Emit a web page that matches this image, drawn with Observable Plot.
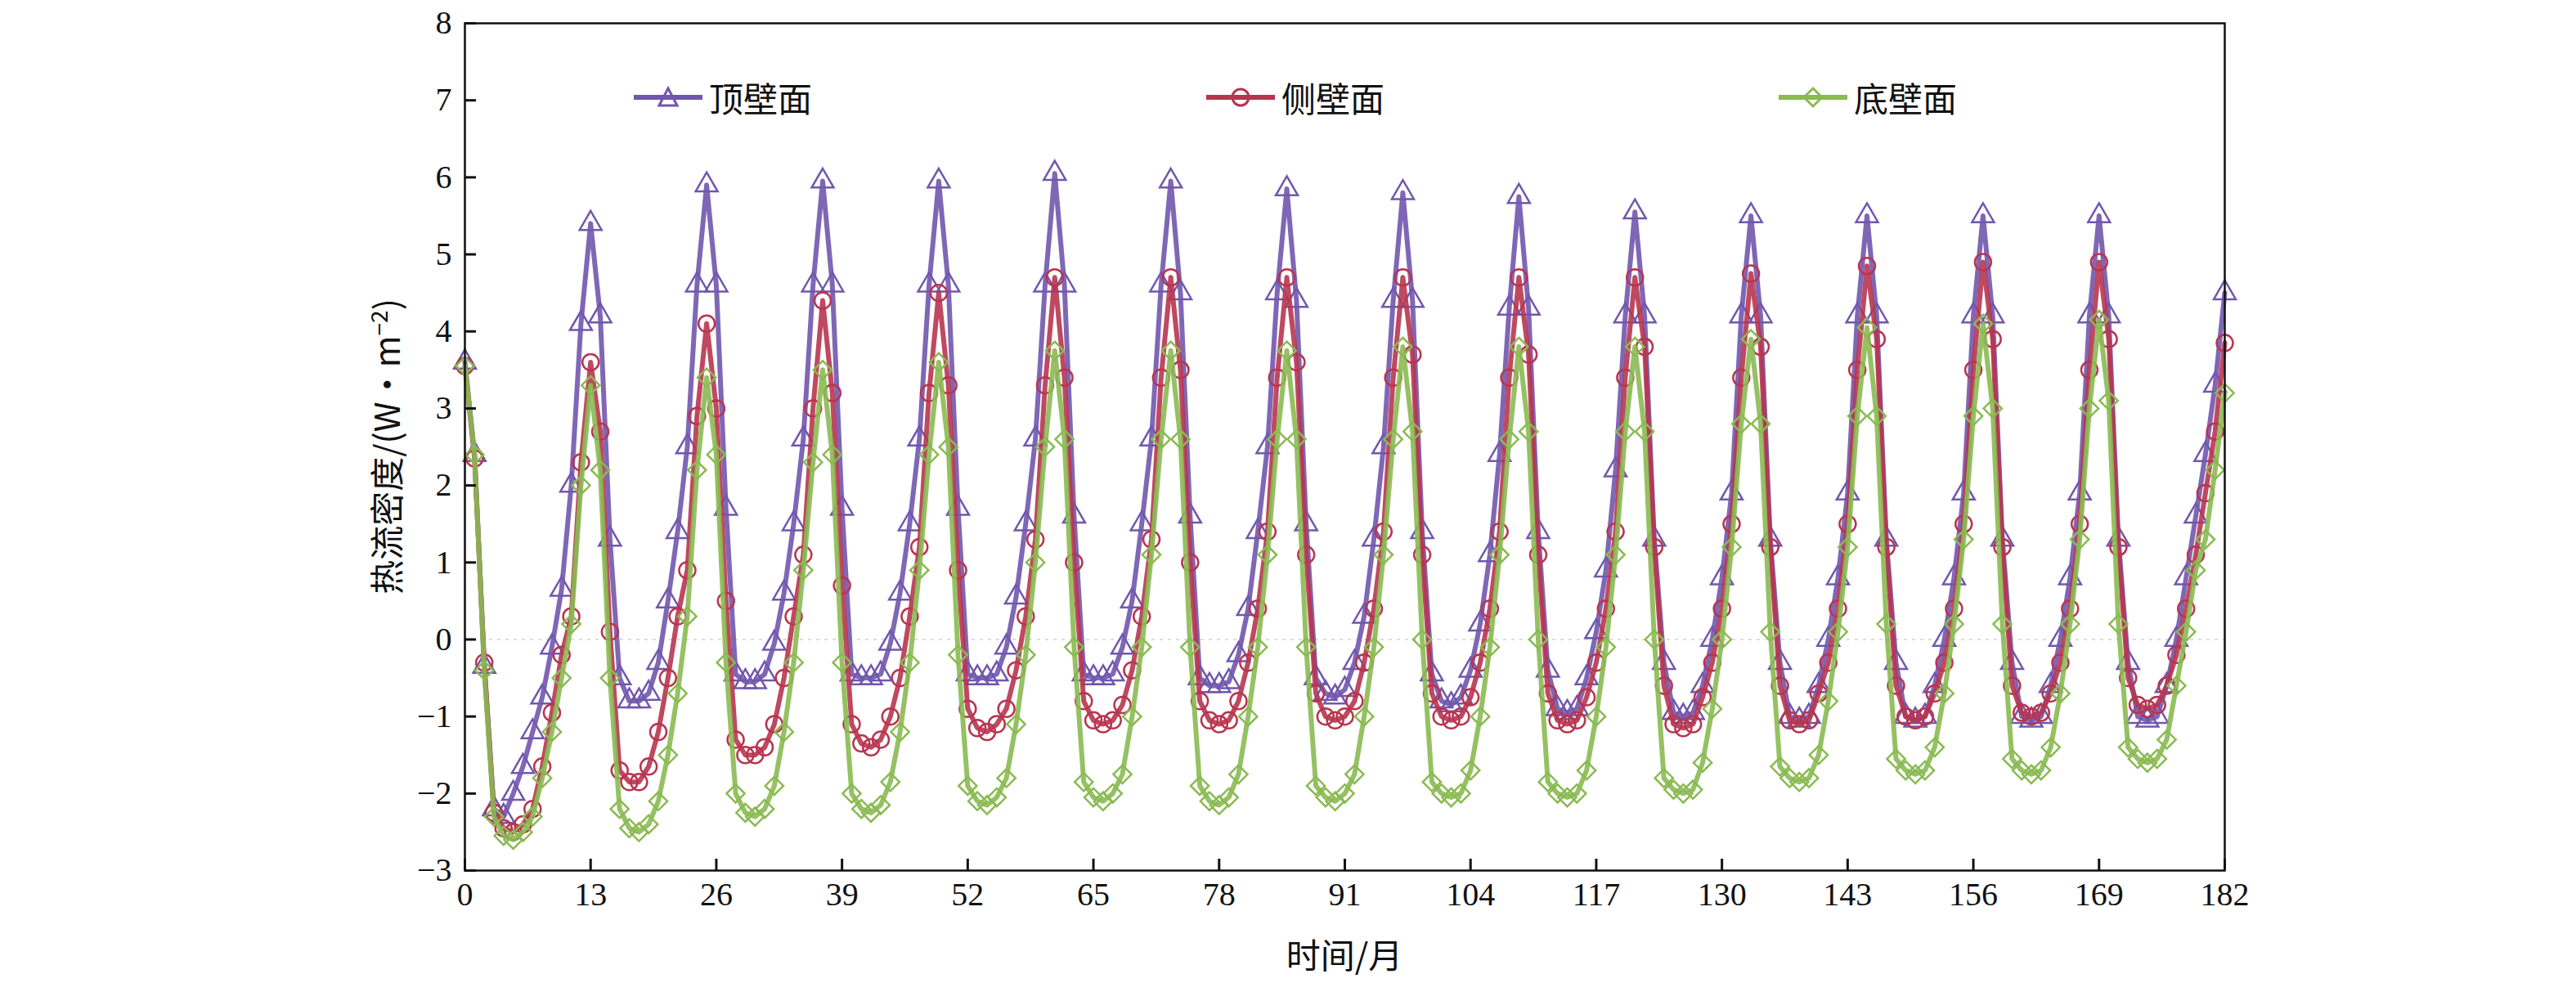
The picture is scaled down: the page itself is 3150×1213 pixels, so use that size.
<!DOCTYPE html>
<html><head><meta charset="utf-8">
<script src="https://cdn.jsdelivr.net/npm/d3@7"></script>
<script src="https://cdn.jsdelivr.net/npm/@observablehq/plot@0.6"></script>
<style>
body{margin:0;background:#fff;}
#wrap{position:relative;width:3150px;height:1213px;}
.leg{position:absolute;top:88px;display:flex;align-items:center;font-family:"Noto Sans CJK SC";font-size:42px;color:#111;}
</style></head><body>
<div id="wrap"></div>
<script>
const seriesNames = ["顶壁面","侧壁面","底壁面"];
const colors = ["#7157ae","#b8354f","#8aba52"];
const symbols = ["triangle","circle","diamond2"];
const xTicks = [0,13,26,39,52,65,78,91,104,117,130,143,156,169,182];
const yTicks = [-3,-2,-1,0,1,2,3,4,5,6,7,8];

const topWall = [
3.6,2.4,-0.35,-2.2,-2.3,-2.0,-1.65,-1.2,-0.75,-0.1,0.65,2.0,4.1,
5.4,4.2,1.3,-0.5,-0.8,-0.8,-0.7,-0.3,0.5,1.4,2.5,4.6,
5.9,4.6,1.7,-0.45,-0.55,-0.55,-0.45,-0.05,0.6,1.5,2.6,4.6,
5.95,4.6,1.7,-0.45,-0.5,-0.5,-0.45,-0.05,0.6,1.5,2.6,4.6,
5.95,4.6,1.7,-0.45,-0.5,-0.5,-0.45,-0.1,0.55,1.5,2.6,4.6,
6.05,4.6,1.6,-0.45,-0.5,-0.5,-0.45,-0.1,0.5,1.5,2.6,4.6,
5.95,4.5,1.6,-0.5,-0.6,-0.6,-0.55,-0.2,0.4,1.4,2.5,4.5,
5.85,4.4,1.5,-0.5,-0.7,-0.75,-0.65,-0.3,0.3,1.3,2.5,4.4,
5.8,4.4,1.4,-0.45,-0.8,-0.85,-0.75,-0.4,0.2,1.1,2.4,4.3,
5.75,4.3,1.4,-0.4,-0.9,-0.95,-0.9,-0.5,0.1,0.9,2.2,4.2,
5.55,4.2,1.3,-0.3,-0.95,-1.0,-0.95,-0.6,0.0,0.8,1.9,4.2,
5.5,4.2,1.3,-0.3,-1.0,-1.05,-1.0,-0.6,0.0,0.8,1.9,4.2,
5.5,4.2,1.3,-0.3,-1.0,-1.05,-1.0,-0.6,0.0,0.8,1.9,4.2,
5.5,4.2,1.3,-0.3,-1.0,-1.05,-1.0,-0.6,0.0,0.8,1.9,4.2,
5.5,4.2,1.3,-0.3,-1.0,-1.05,-1.0,-0.6,0.0,0.8,1.6,2.4,3.3,4.5];
const sideWall = [
3.55,2.35,-0.3,-2.25,-2.45,-2.5,-2.4,-2.2,-1.65,-0.95,-0.2,0.3,2.3,
3.6,2.7,0.1,-1.7,-1.85,-1.85,-1.65,-1.2,-0.5,0.3,0.9,2.9,
4.1,3.0,0.5,-1.3,-1.5,-1.5,-1.4,-1.1,-0.5,0.3,1.1,3.0,
4.4,3.2,0.7,-1.1,-1.35,-1.4,-1.3,-1.0,-0.5,0.3,1.2,3.2,
4.5,3.3,0.9,-0.9,-1.15,-1.2,-1.1,-0.9,-0.4,0.3,1.3,3.3,
4.7,3.4,1.0,-0.8,-1.05,-1.1,-1.05,-0.85,-0.4,0.3,1.3,3.4,
4.7,3.5,1.0,-0.8,-1.05,-1.1,-1.05,-0.8,-0.3,0.4,1.4,3.4,
4.7,3.6,1.1,-0.7,-1.0,-1.05,-1.0,-0.8,-0.3,0.4,1.4,3.4,
4.7,3.7,1.1,-0.7,-1.0,-1.05,-1.0,-0.75,-0.3,0.4,1.4,3.4,
4.7,3.7,1.1,-0.7,-1.05,-1.1,-1.05,-0.75,-0.3,0.4,1.4,3.4,
4.7,3.8,1.2,-0.6,-1.1,-1.15,-1.1,-0.75,-0.3,0.4,1.5,3.4,
4.75,3.8,1.2,-0.6,-1.05,-1.1,-1.05,-0.7,-0.3,0.4,1.5,3.5,
4.85,3.9,1.2,-0.6,-1.0,-1.05,-1.0,-0.7,-0.3,0.4,1.5,3.5,
4.9,3.9,1.2,-0.6,-0.95,-1.0,-0.95,-0.7,-0.3,0.4,1.5,3.5,
4.9,3.9,1.2,-0.5,-0.85,-0.9,-0.85,-0.6,-0.2,0.4,1.1,1.9,2.7,3.85];
const bottomWall = [
3.55,2.4,-0.4,-2.3,-2.55,-2.6,-2.5,-2.3,-1.8,-1.2,-0.5,0.2,2.0,
3.3,2.2,-0.5,-2.2,-2.45,-2.5,-2.4,-2.1,-1.5,-0.7,0.3,2.2,
3.4,2.4,-0.3,-2.0,-2.25,-2.3,-2.2,-1.9,-1.2,-0.3,0.9,2.3,
3.5,2.4,-0.3,-2.0,-2.2,-2.25,-2.15,-1.85,-1.2,-0.3,0.9,2.4,
3.6,2.5,-0.2,-1.9,-2.1,-2.15,-2.05,-1.8,-1.1,-0.2,1.0,2.5,
3.75,2.6,-0.1,-1.85,-2.05,-2.1,-2.0,-1.75,-1.0,-0.1,1.1,2.6,
3.75,2.6,-0.1,-1.9,-2.1,-2.15,-2.05,-1.75,-1.0,-0.1,1.1,2.6,
3.75,2.6,-0.1,-1.9,-2.05,-2.1,-2.0,-1.75,-1.0,-0.1,1.1,2.6,
3.8,2.7,0.0,-1.85,-2.0,-2.05,-2.0,-1.7,-1.0,-0.1,1.1,2.6,
3.8,2.7,0.0,-1.85,-2.0,-2.05,-2.0,-1.7,-1.0,-0.1,1.1,2.7,
3.8,2.7,0.0,-1.8,-1.95,-2.0,-1.95,-1.6,-0.9,0.0,1.2,2.8,
3.9,2.8,0.1,-1.65,-1.8,-1.85,-1.8,-1.5,-0.8,0.1,1.2,2.9,
4.05,2.9,0.2,-1.55,-1.7,-1.75,-1.7,-1.4,-0.7,0.2,1.3,2.9,
4.1,3.0,0.2,-1.55,-1.7,-1.75,-1.7,-1.4,-0.7,0.2,1.3,3.0,
4.15,3.1,0.2,-1.4,-1.55,-1.6,-1.55,-1.3,-0.6,0.1,0.9,1.3,2.2,3.2];

const all = [topWall, sideWall, bottomWall];
const data = [];
all.forEach((arr, s) => arr.forEach((v, i) => data.push({month: i, value: v, series: seriesNames[s]})));

const marks = [
  Plot.ruleY([0], {stroke: "#ddd", strokeWidth: 2, strokeDasharray: "4,6"})
];
seriesNames.forEach((name, s) => {
  const d = data.filter(r => r.series === name);
  marks.push(Plot.line(d, {x: "month", y: "value", stroke: colors[s], strokeWidth: 6, strokeOpacity: 0.9}));
  marks.push(Plot.dot(d, {x: "month", y: "value", stroke: colors[s], fill: "none", r: 10, strokeWidth: 2.5, symbol: symbols[s]}));
});
marks.push(Plot.frame({stroke: "#111", strokeWidth: 2.5}));
marks.push(Plot.axisX({ticks: xTicks, tickSize: -14, tickPadding: 28, fontSize: 40, strokeWidth: 3, label: null}));
marks.push(Plot.axisY({ticks: yTicks, tickSize: -14, tickPadding: 30, fontSize: 40, strokeWidth: 3, label: null}));

const chart = Plot.plot({
  width: 3150, height: 1213,
  marginLeft: 568, marginRight: 430, marginTop: 28, marginBottom: 149,
  x: {domain: [0, 182]},
  y: {domain: [-3, 8]},
  style: {fontFamily: "'Liberation Serif', serif", fontSize: "40px", background: "#fff", color: "#111"},
  marks
});
const wrap = document.getElementById("wrap");
wrap.appendChild(chart);

const xl = document.createElement("div");
xl.textContent = "时间/月";
xl.style.cssText = "position:absolute;left:1644px;top:1135px;transform:translateX(-50%);font-family:'Noto Sans CJK SC';font-size:42px;color:#111;";
wrap.appendChild(xl);
const yl = document.createElement("div");
yl.innerHTML = "热流密度/(W·m<sup style='font-size:28px'>−2</sup>)";
yl.style.cssText = "position:absolute;left:470px;top:546px;transform:translate(-50%,-50%) rotate(-90deg);white-space:nowrap;font-family:'Noto Sans CJK SC';font-size:42px;color:#111;";
wrap.appendChild(yl);

const legX = [775, 1475, 2175];
seriesNames.forEach((name, s) => {
  const el = document.createElement("div");
  el.className = "leg";
  el.style.left = legX[s] + "px";
  const sym = s === 0 ? "<polygon points='42,19 53,40 31,40' fill='none' stroke='"+colors[s]+"' stroke-width='3'/>"
            : s === 1 ? "<circle cx='42' cy='30' r='10' fill='none' stroke='"+colors[s]+"' stroke-width='3'/>"
            : "<polygon points='42,19 53,30 42,41 31,30' fill='none' stroke='"+colors[s]+"' stroke-width='3'/>";
  el.innerHTML = "<svg width='86' height='60'><line x1='0' y1='30' x2='84' y2='30' stroke='"+colors[s]+"' stroke-width='6'/>"+sym+"</svg><span style='margin-left:6px'>"+name+"</span>";
  wrap.appendChild(el);
});
</script>
</body></html>
